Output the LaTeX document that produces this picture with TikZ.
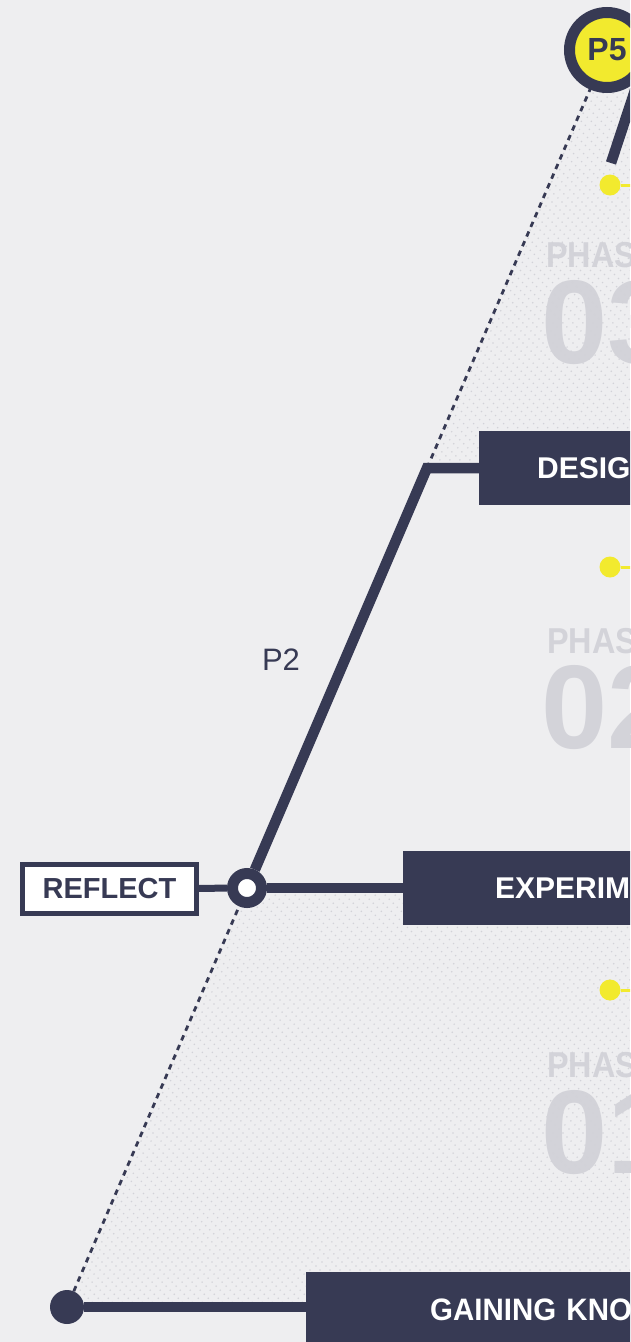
\documentclass[tikz,border=0pt]{standalone}
\usepackage{fontspec}
\setmainfont{Liberation Sans}
\newfontfamily\condfont{Liberation Sans}[FakeStretch=0.9]
\newfontfamily\narrowfont{Liberation Sans}[FakeStretch=0.95]
\usepackage{tikz}
\usetikzlibrary{calc}

\definecolor{navy}{HTML}{373A54}
\definecolor{paper}{HTML}{EEEEF0}
\definecolor{sun}{HTML}{F2EA2E}
\definecolor{phasegray}{HTML}{D3D3D9}
\definecolor{hatchgray}{HTML}{D2D2D8}

\tikzset{
  spine/.style={draw=navy, line width=10.5pt},
  guide/.style={draw=navy, line width=2.8pt, dash pattern=on 5.5pt off 5pt},
  hatch/.style={draw=hatchgray, line width=1.2pt, dash pattern=on 1.2pt off 4.5pt},
  bar/.style={fill=navy, text=white, anchor=west, minimum height=74pt, text width=420pt,
    align=left, font=\bfseries\fontsize{30}{36}\selectfont},
  marker/.style={circle, fill=sun, minimum size=21pt, inner sep=0pt},
  phaseword/.style={anchor=base west, inner sep=0pt, text=phasegray, font=\condfont\bfseries\fontsize{36}{40}\selectfont},
  phasenum/.style={anchor=base west, inner sep=0pt, text=phasegray, font=\bfseries\fontsize{119}{120}\selectfont}
}

\begin{document}
\begin{tikzpicture}[x=1pt, y=-1pt]
  \useasboundingbox (0,0) rectangle (630,1342);
  \fill[paper] (0,0) rectangle (630,1342);
  \clip (0,0) rectangle (630,1342);

  \node[phaseword] (word3) at (546,267) {PHASE};
  \node[phasenum] (num3) at (541,363) {03};
  \node[phaseword] (word2) at (547,653) {PHASE};
  \node[phasenum] (num2) at (541,748) {02};
  \node[phaseword] (word1) at (547,1077) {PHASE};
  \node[phasenum] (num1) at (541,1173) {01};

  \begin{scope}
    \clip (607,50) -- (427,468) -- (630,468) -- (630,50) -- cycle;
    \foreach \k in {-1400,-1390,...,700}
      \draw[hatch] (\k,0) -- ++(1400,1400);
  \end{scope}
  \begin{scope}
    \clip (247,888) -- (67,1302) -- (630,1302) -- (630,888) -- cycle;
    \foreach \k in {-1400,-1390,...,700}
      \draw[hatch] (\k,0) -- ++(1400,1400);
  \end{scope}

  \node[bar, inner xsep=58pt] (design) at (479,468) {DESIGN};
  \node[bar, inner xsep=92pt] (experiment) at (403,888) {EXPERIMENT};
  \node[bar, inner xsep=124pt, minimum height=76pt, font=\narrowfont\bfseries\fontsize{31}{36}\selectfont] (gaining) at (306,1310) {GAINING KNOWLEDGE};

  \node[circle, fill=navy, minimum size=34pt, inner sep=0pt] (start) at (67,1307) {};
  \node[circle, draw=navy, line width=11pt, fill=white, minimum size=29pt, inner sep=0pt] (hub) at (247,888) {};
  \node[draw=navy, line width=5pt, fill=white, minimum width=174pt, minimum height=49pt, inner sep=0pt,
    text=navy, font=\bfseries\fontsize{29}{34}\selectfont] (reflect) at (109.5,889) {REFLECT};
  \coordinate (bend) at (427,468);
  \coordinate (spokefoot) at (611,163);

  \draw[guide] (start) -- (hub);
  \draw[guide] (bend) -- (607,50);
  \draw[spine] (start) -- (start -| gaining.west);
  \draw[draw=navy, line width=7pt] (reflect) -- (hub);
  \draw[spine] (hub) -- (bend) -- (design.west);
  \draw[spine] (hub) -- (experiment.west);
  \draw[spine] (spokefoot) -- ++(33,-100);

  \node[circle, draw=navy, line width=11pt, fill=sun, minimum size=75pt, inner sep=0pt,
    text=navy, font=\bfseries\fontsize{32}{36}\selectfont] (p5) at (607,50) {P5};
  \node[text=navy, font=\fontsize{31}{36}\selectfont] (p2) at (281,660) {P2};

  \node[marker] (m3) at (610,185) {};
  \node[marker] (m2) at (610,567) {};
  \node[marker] (m1) at (610,990) {};
  \foreach \m in {m3,m2,m1}
    \draw[sun, line width=3pt] (\m) -- ++(30,0);
\end{tikzpicture}
\end{document}
